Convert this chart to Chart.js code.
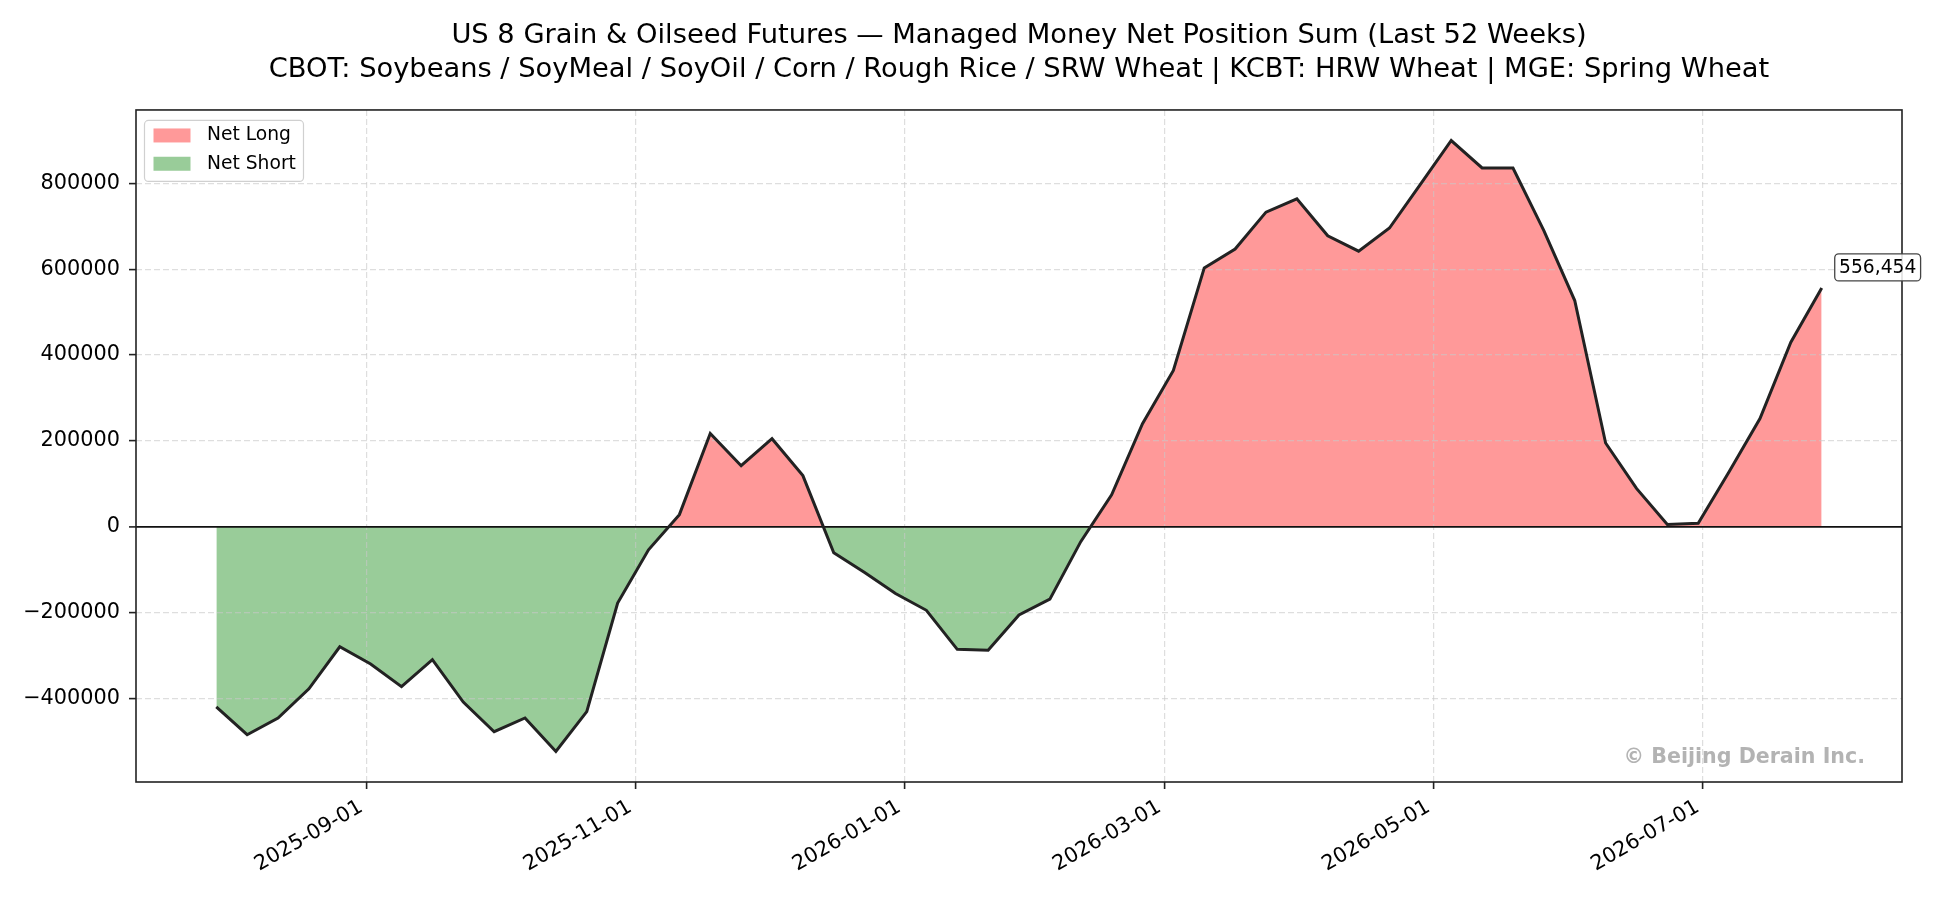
<!DOCTYPE html>
<html>
<head>
<meta charset="utf-8">
<title>US 8 Grain & Oilseed Futures — Managed Money Net Position Sum</title>
<script src="https://cdn.jsdelivr.net/npm/chart.js@4.4.1/dist/chart.umd.min.js"></script>
<style>
  html, body { margin: 0; padding: 0; background: #fff; }
  #wrap { width: 1950px; height: 900px; }
</style>
</head>
<body>
<div id="wrap"><canvas id="graficoNet" width="1950" height="900"></canvas></div>
<script>
// weekly report dates (Tuesdays)
const weeks = [
  '2025-07-29', '2025-08-05', '2025-08-12', '2025-08-19', '2025-08-26',
  '2025-09-02', '2025-09-09', '2025-09-16', '2025-09-23', '2025-09-30',
  '2025-10-07', '2025-10-14', '2025-10-21', '2025-10-28',
  '2025-11-04', '2025-11-11', '2025-11-18', '2025-11-25',
  '2025-12-02', '2025-12-09', '2025-12-16', '2025-12-23', '2025-12-30',
  '2026-01-06', '2026-01-13', '2026-01-20', '2026-01-27',
  '2026-02-03', '2026-02-10', '2026-02-17', '2026-02-24',
  '2026-03-03', '2026-03-10', '2026-03-17', '2026-03-24', '2026-03-31',
  '2026-04-07', '2026-04-14', '2026-04-21', '2026-04-28',
  '2026-05-05', '2026-05-12', '2026-05-19', '2026-05-26',
  '2026-06-02', '2026-06-09', '2026-06-16', '2026-06-23', '2026-06-30',
  '2026-07-07', '2026-07-14', '2026-07-21', '2026-07-28'
];

// managed money net position sum (contracts)
const netPosition = [
  -420000, -485000, -446000, -378000, -280000,
  -320000, -373000, -310000, -409000, -478000,
  -446000, -524000, -431000, -178000,
  -54000, 28000, 217000, 142000,
  205000, 119000, -61000, -107000, -156000,
  -195000, -286000, -288000, -206000,
  -169000, -35000, 74000, 240000,
  364000, 603000, 647000, 733000, 764000,
  678000, 642000, 696000, 798000,
  900000, 836000, 836000, 690000,
  527000, 195000, 89000, 5000, 8000,
  128000, 252000, 430000, 556454
];

const xTickDates = ['2025-09-01', '2025-11-01', '2026-01-01', '2026-03-01', '2026-05-01', '2026-07-01'];
const yTicks = [-400000, -200000, 0, 200000, 400000, 600000, 800000];
const legendNames = ['Net Long', 'Net Short'];
const titleLines = [
  'US 8 Grain & Oilseed Futures — Managed Money Net Position Sum (Last 52 Weeks)',
  'CBOT: Soybeans / SoyMeal / SoyOil / Corn / Rough Rice / SRW Wheat | KCBT: HRW Wheat | MGE: Spring Wheat'
];
const watermark = '© Beijing Derain Inc.';

const corLong = 'rgba(255, 0, 0, 0.4)';
const corShort = 'rgba(0, 128, 0, 0.4)';
const fonte = 'DejaVu Sans';

function paraDia(d) { return Date.parse(d + 'T00:00:00Z') / 86400000; }
function paraData(v) { return new Date(Math.round(v) * 86400000).toISOString().slice(0, 10); }

const pontos = weeks.map((d, i) => ({ x: paraDia(d), y: netPosition[i] }));

// margins like matplotlib (5%)
const x0 = paraDia(weeks[0]), x1 = paraDia(weeks[weeks.length - 1]);
const yMin = Math.min(...netPosition), yMax = Math.max(...netPosition);
const mx = (x1 - x0) * 0.05, my = (yMax - yMin) * 0.05;

Chart.defaults.font.family = fonte;
Chart.defaults.color = '#000';

const molduraPlugin = {
  id: 'moldura',
  afterDatasetsDraw(chart) {
    const { ctx, chartArea: a } = chart;
    ctx.save();
    ctx.strokeStyle = '#222';
    ctx.lineWidth = 1.6;
    ctx.strokeRect(a.left, a.top, a.right - a.left, a.bottom - a.top);
    ctx.restore();
  }
};

const legendaPlugin = {
  id: 'legenda',
  afterDraw(chart) {
    const { ctx, chartArea: a } = chart;
    const bx = a.left + 8.5, by = a.top + 10.5, bw = 159, bh = 61;
    ctx.save();
    ctx.beginPath();
    ctx.roundRect(bx, by, bw, bh, 4);
    ctx.fillStyle = 'rgba(255,255,255,0.8)';
    ctx.fill();
    ctx.strokeStyle = '#d0d0d0';
    ctx.lineWidth = 1.2;
    ctx.stroke();
    const cores = [corLong, corShort];
    ctx.font = '18.7px "' + fonte + '"';
    ctx.textBaseline = 'middle';
    ctx.textAlign = 'left';
    legendNames.forEach((nome, i) => {
      const cy = by + 15 + i * 28.3;
      ctx.fillStyle = cores[i];
      ctx.fillRect(bx + 9, cy - 7, 37, 14);
      ctx.fillStyle = '#000';
      ctx.fillText(nome, bx + 62.5, cy);
    });
    ctx.restore();
  }
};

const rotuloPlugin = {
  id: 'rotulo',
  afterDraw(chart) {
    const { ctx } = chart;
    const xs = chart.scales.x, ys = chart.scales.y;
    const ultimo = netPosition[netPosition.length - 1];
    const px = xs.getPixelForValue(x1), py = ys.getPixelForValue(ultimo);
    const texto = ultimo.toLocaleString('en-US');
    ctx.save();
    ctx.font = '18.7px "' + fonte + '"';
    const w = ctx.measureText(texto).width + 8.6;
    const bx = px + 13, by = py - 34, bh = 27;
    ctx.beginPath();
    ctx.roundRect(bx, by, w, bh, 4);
    ctx.fillStyle = 'rgba(255,255,255,0.85)';
    ctx.fill();
    ctx.strokeStyle = '#444';
    ctx.lineWidth = 1.3;
    ctx.stroke();
    ctx.fillStyle = '#000';
    ctx.textBaseline = 'middle';
    ctx.textAlign = 'left';
    ctx.fillText(texto, bx + 4.3, by + bh / 2 + 0.5);
    // watermark
    const a = chart.chartArea;
    ctx.font = 'bold 20.6px "' + fonte + '"';
    ctx.fillStyle = 'rgba(128,128,128,0.6)';
    ctx.textAlign = 'right';
    ctx.fillText(watermark, a.right - 37, a.bottom - 24);
    ctx.restore();
  }
};

const ctx = document.getElementById('graficoNet').getContext('2d');
const grafico = new Chart(ctx, {
  type: 'line',
  data: {
    datasets: [{
      label: 'Net Position',
      data: pontos,
      borderColor: '#222',
      borderWidth: 3,
      pointRadius: 0,
      tension: 0,
      fill: { target: 'origin', above: corLong, below: corShort }
    }]
  },
  options: {
    responsive: false,
    animation: false,
    devicePixelRatio: 1,
    layout: { padding: { left: 0, right: 48, top: 0, bottom: 0 } },
    plugins: {
      legend: { display: false },
      tooltip: { enabled: false },
      filler: { drawTime: 'beforeDraw' },
      title: {
        display: true,
        fullSize: false,
        text: titleLines,
        color: '#000',
        font: { size: 27.3, weight: 'normal', lineHeight: 1.23 },
        padding: { top: 19.2, bottom: 23.6 }
      }
    },
    scales: {
      x: {
        type: 'linear',
        min: x0 - mx,
        max: x1 + mx,
        afterBuildTicks: (axis) => { axis.ticks = xTickDates.map(d => ({ value: paraDia(d) })); },
        afterFit: (scale) => { scale.height = 118; },
        ticks: {
          autoSkip: false,
          minRotation: 30,
          maxRotation: 30,
          padding: 6,
          labelOffset: -5,
          font: { size: 20.8 },
          color: '#000',
          callback: (v) => paraData(v)
        },
        grid: {
          color: 'rgba(200,200,200,0.6)',
          lineWidth: 1.2,
          tickLength: 7,
          tickColor: '#222',
          tickWidth: 1.6
        },
        border: { display: false, dash: [6, 3] }
      },
      y: {
        type: 'linear',
        min: yMin - my,
        max: yMax + my,
        afterBuildTicks: (axis) => { axis.ticks = yTicks.map(v => ({ value: v })); },
        afterFit: (scale) => { scale.width = 136; },
        ticks: {
          padding: 9,
          font: { size: 20.8 },
          color: '#000',
          callback: (v) => (v < 0 ? '\u2212' + Math.abs(v) : String(v))
        },
        grid: {
          color: (c) => (c.tick && c.tick.value === 0 ? '#111' : 'rgba(200,200,200,0.6)'),
          lineWidth: (c) => (c.tick && c.tick.value === 0 ? 1.8 : 1.2),
          tickLength: 7,
          tickColor: '#222',
          tickWidth: 1.6
        },
        border: {
          display: false,
          dash: (c) => (c.tick && c.tick.value === 0 ? [] : [6, 3])
        }
      }
    }
  },
  plugins: [molduraPlugin, legendaPlugin, rotuloPlugin]
});
</script>
</body>
</html>
